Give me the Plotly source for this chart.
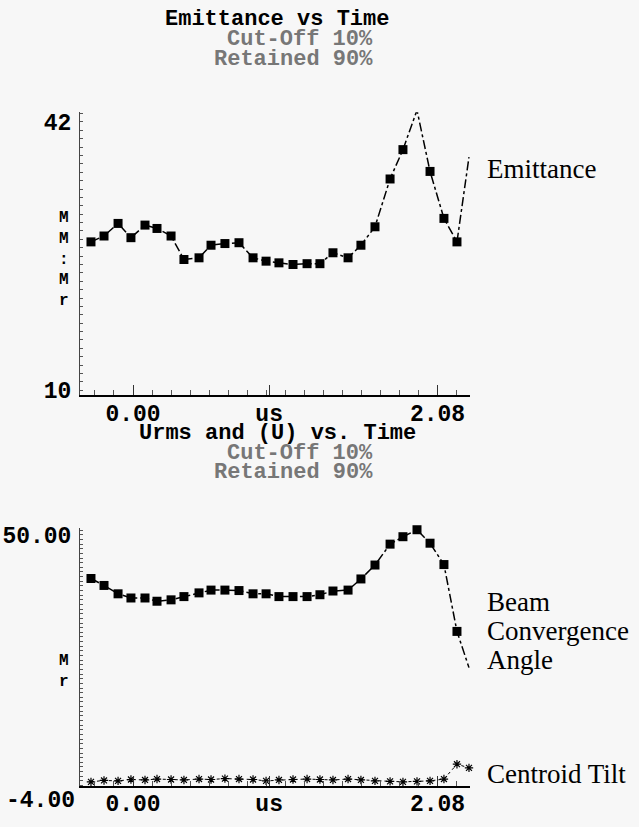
import plotly.graph_objects as go

W, H = 639, 827

# sample times in microseconds, shared by all traces
time_us = [-0.287, -0.198, -0.102, -0.014, 0.082, 0.164, 0.260, 0.348, 0.451, 0.533,
           0.628, 0.724, 0.820, 0.909, 0.997, 1.093, 1.189, 1.277, 1.366, 1.469,
           1.557, 1.653, 1.756, 1.844, 1.940, 2.029, 2.124, 2.213, 2.295]

# top panel: emittance (mm-mr)
emittance = [27.7, 28.4, 29.9, 28.2, 29.7, 29.3, 28.4, 25.6, 25.8, 27.3,
             27.5, 27.6, 25.8, 25.4, 25.2, 25.0, 25.1, 25.1, 26.4, 25.8,
             27.3, 29.5, 35.2, 38.7, 43.4, 36.1, 30.5, 27.7, 37.8]

# bottom panel: beam convergence angle and centroid tilt (mr)
beam_angle = [40.6, 39.1, 37.3, 36.4, 36.4, 35.7, 36.0, 36.7, 37.5, 38.1,
              38.1, 38.0, 37.3, 37.3, 36.7, 36.7, 36.7, 37.1, 37.9, 38.1,
              40.5, 43.5, 48.0, 49.6, 51.1, 48.2, 43.6, 29.2, 21.4]
centroid_tilt = [-3.2, -2.9, -3.0, -2.7, -2.8, -2.6, -2.7, -2.8, -2.6, -2.7,
                 -2.5, -2.6, -2.7, -3.0, -2.8, -2.7, -2.6, -2.7, -2.8, -2.6,
                 -2.8, -3.0, -3.1, -3.2, -3.1, -3.0, -2.6, 0.6, -0.2]

x_tickvals = [0.0, 0.93, 2.08]
x_ticktext = ["0.00", "us", "2.08"]
top_yticks = [10, 42]
top_ytext = ["10", "42"]
bot_yticks = [-4, 50]
bot_ytext = ["-4.00", "50.00"]

titles_top = ["Emittance vs Time", "Cut-Off 10%", "Retained 90%"]
titles_bot = ["Urms and (U) vs. Time", "Cut-Off 10%", "Retained 90%"]

MONO = "Liberation Mono"
SERIF = "Liberation Serif"


def fx(px):
    return px / W


def fy(py):
    return 1 - py / H


fig = go.Figure()

line_style = dict(color="black", width=1.5, dash="dashdot")
square = dict(symbol="square", size=9, color="black")

# top panel
fig.add_trace(go.Scatter(x=time_us, y=emittance, mode="lines", line=line_style,
                         xaxis="x", yaxis="y", cliponaxis=False))
fig.add_trace(go.Scatter(x=time_us[:-1], y=emittance[:-1], mode="markers", marker=square,
                         xaxis="x", yaxis="y", cliponaxis=False))

# bottom panel
fig.add_trace(go.Scatter(x=time_us, y=beam_angle, mode="lines", line=line_style,
                         xaxis="x2", yaxis="y2", cliponaxis=False))
fig.add_trace(go.Scatter(x=time_us[:-1], y=beam_angle[:-1], mode="markers", marker=square,
                         xaxis="x2", yaxis="y2", cliponaxis=False))
fig.add_trace(go.Scatter(x=time_us, y=centroid_tilt, mode="lines+markers",
                         line=dict(color="black", width=1, dash="dot"),
                         marker=dict(symbol="asterisk-open", size=7,
                                     line=dict(color="black", width=1.2)),
                         xaxis="x2", yaxis="y2", cliponaxis=False))

tickfont = dict(family=MONO, size=23, color="black", weight="bold")
xdom = [fx(80), fx(470)]
xrange_ = [-0.362, 2.302]

xcommon = dict(domain=xdom, range=xrange_, tickmode="array", tickvals=x_tickvals,
               ticktext=x_ticktext, tickfont=tickfont, showgrid=False, zeroline=False,
               showline=True, linecolor="black", linewidth=2, ticks="inside", ticklen=10,
               tickcolor="#333", tickwidth=1, ticklabelstandoff=-4,
               minor=dict(ticks="inside", ticklen=5, tickcolor="#555", tick0=0, dtick=0.13))
ycommon = dict(tickfont=tickfont, showgrid=False, zeroline=False, showline=True,
               linecolor="#444", linewidth=1, ticks="", ticklabelstandoff=3,
               tickmode="array",
               minor=dict(ticks="inside", ticklen=3, tickcolor="#555", dtick=1))

fig.update_layout(
    width=W, height=H,
    margin=dict(l=0, r=0, t=0, b=0),
    paper_bgcolor="#f7f7f7", plot_bgcolor="#f7f7f7",
    showlegend=False, hovermode=False,
    xaxis=dict(xcommon, anchor="y"),
    yaxis=dict(ycommon, domain=[fy(398), fy(110)], range=[9.41, 43.17],
               tickvals=top_yticks, ticktext=top_ytext, anchor="x"),
    xaxis2=dict(xcommon, anchor="y2"),
    yaxis2=dict(ycommon, domain=[fy(795), fy(533)], range=[-4, 51.48],
                tickvals=bot_yticks[1:], ticktext=bot_ytext[1:], anchor="x2"),
)

ann = []
# panel headers
for texts, ys in ((titles_top, (16, 36, 56)), (titles_bot, (437, 457, 477))):
    ann.append(dict(text=texts[0], x=fx(277), y=fy(ys[0]), font=dict(family=MONO, size=22,
                    color="black", weight="bold")))
    ann.append(dict(text=texts[1], x=fx(300), y=fy(ys[1]), font=dict(family=MONO, size=22,
                    color="#777", weight="bold")))
    ann.append(dict(text=texts[2], x=fx(293), y=fy(ys[2]), font=dict(family=MONO, size=22,
                    color="#777", weight="bold")))

# stacked unit letters on the y axes
ann.append(dict(text="M<br>M<br>:<br>M<br>r", x=fx(64), y=fy(260),
                font=dict(family=MONO, size=16, color="black", weight="bold")))
ann.append(dict(text="M<br>r", x=fx(64), y=fy(679),
                font=dict(family=MONO, size=16, color="black", weight="bold")))

# bottom y-axis minimum label sits on the x tick-label row
ann.append(dict(text=bot_ytext[0], x=fx(77), y=fy(811), xanchor="right",
                font=tickfont))

# curve labels
serif = dict(family=SERIF, size=27, color="black")
for txt, py in (("Emittance", 168), ("Beam", 608), ("Convergence", 638),
                ("Angle", 667), ("Centroid Tilt", 783)):
    ann.append(dict(text=txt, x=fx(485), y=fy(py), xanchor="left", font=serif))

for a in ann:
    a.setdefault("xanchor", "center")
    a.update(xref="paper", yref="paper", yanchor="middle", showarrow=False)
fig.update_layout(annotations=ann)

# place the figure at the window origin (no default body margin)
fig.write_html("out.html", config={"displayModeBar": False},
               post_script="document.body.style.margin='0px';")
